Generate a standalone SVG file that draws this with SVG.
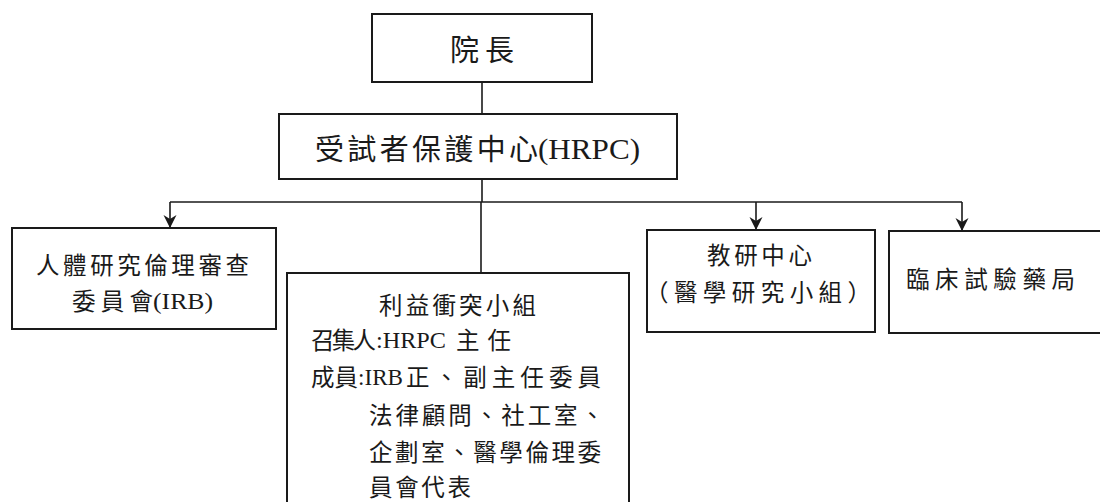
<svg xmlns="http://www.w3.org/2000/svg" width="1100" height="502" viewBox="0 0 1100 502">
<style>
.box{fill:#fff;stroke:#1a1a1a;stroke-width:2}
.ln{fill:none;stroke:#1a1a1a;stroke-width:1.6}
.t{font-family:"Liberation Serif","Noto Sans CJK TC",serif;fill:#1a1a1a;font-size:23.5px}
.big{font-size:29px}
.hr{font-size:29px}
</style>
<defs>
<marker id="arr" markerUnits="userSpaceOnUse" markerWidth="14" markerHeight="14" refX="13" refY="7" orient="auto">
<path d="M0,0.5 L13,7 L0,13.5 L4,7 z" fill="#1a1a1a"/>
</marker>
</defs>
<rect width="1100" height="502" fill="#fff"/>
<g id="connectors">
<line class="ln" x1="482" y1="82" x2="482" y2="114"/>
<line class="ln" x1="482" y1="179" x2="482" y2="202"/>
<line class="ln" x1="170" y1="202" x2="962" y2="202"/>
<line class="ln" x1="170" y1="202" x2="170" y2="228" marker-end="url(#arr)"/>
<line class="ln" x1="481" y1="202" x2="481" y2="273"/>
<line class="ln" x1="756" y1="202" x2="756" y2="230" marker-end="url(#arr)"/>
<line class="ln" x1="962" y1="202" x2="962" y2="231" marker-end="url(#arr)"/>
</g>
<g id="president">
<rect class="box" x="372" y="14" width="220" height="68"/>
<text class="t big" x="450" y="61" textLength="64" lengthAdjust="spacing">院長</text>
</g>
<g id="hrpc">
<rect class="box" x="279" y="114" width="398" height="65"/>
<text class="t hr" x="315" y="160" textLength="223" lengthAdjust="spacing">受試者保護中心</text>
<text class="t hr" x="538" y="159" textLength="102" lengthAdjust="spacingAndGlyphs">(HRPC)</text>
</g>
<g id="irb">
<rect class="box" x="12" y="228" width="264" height="101"/>
<text class="t" x="36" y="274" textLength="213" lengthAdjust="spacing">人體研究倫理審查</text>
<text class="t" x="72" y="310" textLength="81" lengthAdjust="spacing">委員會</text>
<text class="t" x="153" y="309" textLength="60" lengthAdjust="spacingAndGlyphs">(IRB)</text>
</g>
<g id="coi">
<rect class="box" x="287" y="273" width="342" height="240"/>
<text class="t" x="379" y="314" textLength="157" lengthAdjust="spacing">利益衝突小組</text>
<text class="t" x="311" y="349" textLength="65" lengthAdjust="spacing">召集人</text>
<text class="t" x="376" y="348" textLength="70" lengthAdjust="spacingAndGlyphs">:HRPC</text>
<text class="t" x="456" y="349" textLength="55" lengthAdjust="spacing">主任</text>
<text class="t" x="311" y="386" textLength="47" lengthAdjust="spacing">成員</text>
<text class="t" x="358" y="385" textLength="45" lengthAdjust="spacingAndGlyphs">:IRB</text>
<text class="t" x="406" y="386" textLength="195" lengthAdjust="spacing">正、副主任委員</text>
<text class="t" x="369" y="424" textLength="235" lengthAdjust="spacing">法律顧問、社工室、</text>
<text class="t" x="369" y="461" textLength="232" lengthAdjust="spacing">企劃室、醫學倫理委</text>
<text class="t" x="369" y="496" textLength="102" lengthAdjust="spacing">員會代表</text>
</g>
<g id="research">
<rect class="box" x="647" y="230" width="228" height="102"/>
<text class="t" x="707" y="264" textLength="105" lengthAdjust="spacing">教研中心</text>
<text class="t" x="645" y="301" textLength="226" lengthAdjust="spacing">（醫學研究小組）</text>
</g>
<g id="pharmacy">
<rect class="box" x="889" y="231" width="220" height="102"/>
<text class="t" x="906" y="288" textLength="169" lengthAdjust="spacing">臨床試驗藥局</text>
</g>
</svg>
